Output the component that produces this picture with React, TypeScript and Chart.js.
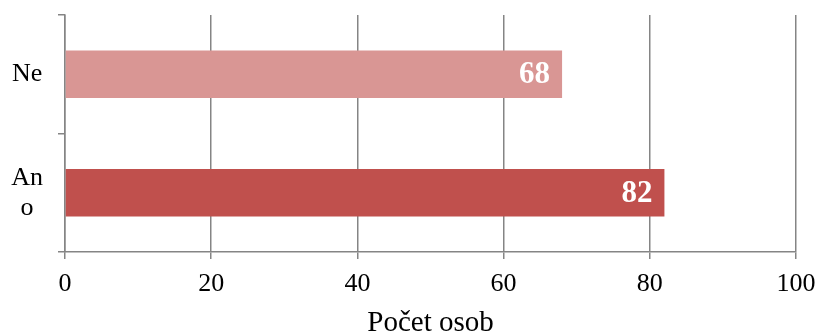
import React, { useEffect, useRef } from "react";
import { Chart, registerables } from "chart.js";

Chart.register(...registerables);

// Survey answers: number of people per answer
const categories = ["Ne", "Ano"];
const categoryLines = [["Ne"], ["An", "o"]];
const values = [68, 82];
const barColors = ["#D99694", "#C0504D"];
const xTicks = [0, 20, 40, 60, 80, 100];
const xTitle = "Počet osob";

const FONT = '"Liberation Serif", "Times New Roman", serif';
const GRID = "#858585";

// White value labels placed just inside the end of every bar
const barValueLabels = {
  id: "barValueLabels",
  afterDatasetsDraw(chart: any) {
    const ctx = chart.ctx;
    const meta = chart.getDatasetMeta(0);
    ctx.save();
    ctx.font = `bold 31px ${FONT}`;
    ctx.fillStyle = "#ffffff";
    ctx.textAlign = "right";
    ctx.textBaseline = "middle";
    meta.data.forEach((bar: any, i: number) => {
      const v = chart.data.datasets[0].data[i];
      ctx.fillText(String(v), bar.x - 12, bar.y + 1);
    });
    ctx.restore();
  },
};

export default function App() {
  const canvasRef = useRef<HTMLCanvasElement | null>(null);

  useEffect(() => {
    if (!canvasRef.current) return;
    const chart = new Chart(canvasRef.current, {
      type: "bar",
      data: {
        labels: categories,
        datasets: [
          {
            data: values,
            backgroundColor: barColors,
            borderWidth: 0,
            categoryPercentage: 1,
            barPercentage: 0.4,
          },
        ],
      },
      options: {
        indexAxis: "y",
        animation: false,
        responsive: false,
        maintainAspectRatio: false,
        layout: { padding: { top: 15, right: 21, left: 0, bottom: 0 } },
        plugins: {
          legend: { display: false },
          tooltip: { enabled: false },
        },
        scales: {
          x: {
            min: 0,
            max: 100,
            afterBuildTicks(scale: any) {
              scale.ticks = xTicks.map((v) => ({ value: v }));
            },
            afterFit(scale: any) {
              scale.height = 83;
              scale.paddingLeft = 0;
              scale.paddingRight = 0;
            },
            grid: {
              color: GRID,
              lineWidth: 1.5,
              tickLength: 7,
              drawOnChartArea: true,
              drawTicks: true,
            },
            border: { display: true, color: GRID, width: 1.5 },
            ticks: {
              color: "#000000",
              font: { family: FONT, size: 26 },
              padding: 10,
              maxRotation: 0,
            },
            title: {
              display: true,
              text: xTitle,
              color: "#000000",
              font: { family: FONT, size: 29, lineHeight: 0.8 },
              padding: { top: 0, bottom: 0 },
            },
          },
          y: {
            afterFit(scale: any) {
              scale.width = 65;
              scale.paddingTop = 0;
              scale.paddingBottom = 0;
            },
            grid: {
              color: GRID,
              lineWidth: 1.5,
              tickLength: 7,
              drawOnChartArea: false,
              drawTicks: true,
              offset: true,
            },
            border: { display: true, color: GRID, width: 1.5 },
            ticks: {
              color: "#000000",
              font: { family: FONT, size: 26, lineHeight: 1.15 },
              padding: 15,
              crossAlign: "center",
              callback: (_v: any, i: number) => categoryLines[i],
            },
          },
        },
      },
      plugins: [barValueLabels],
    });
    return () => chart.destroy();
  }, []);

  return (
    <div
      style={{
        position: "absolute",
        left: 0,
        top: 0,
        width: 817,
        height: 335,
        background: "#ffffff",
      }}
    >
      <canvas ref={canvasRef} width={817} height={335} style={{ display: "block" }} />
    </div>
  );
}
